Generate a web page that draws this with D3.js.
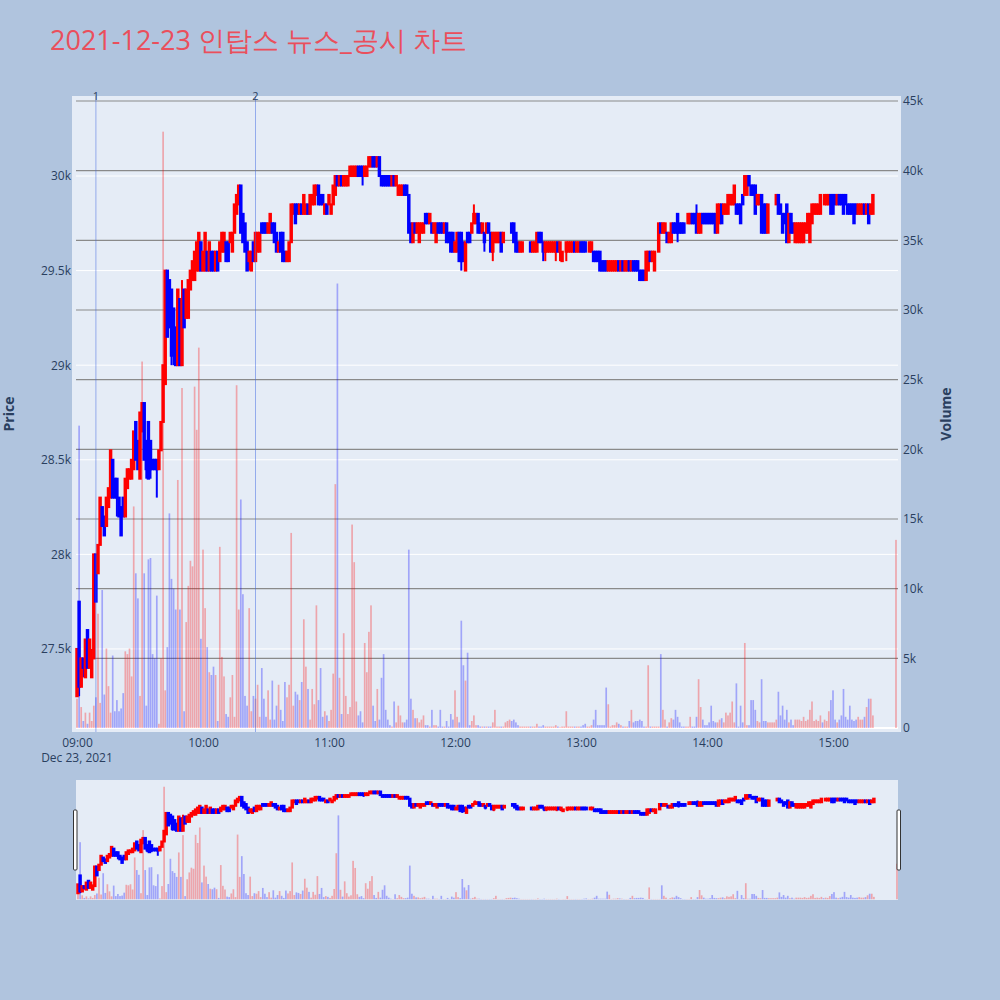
<!DOCTYPE html>
<html><head><meta charset="utf-8">
<script src="https://cdn.jsdelivr.net/npm/d3@7"></script>
<style>
body{margin:0;background:#b0c4de;}
svg{display:block;font-family:"Open Sans",verdana,arial,sans-serif;}
</style>
</head><body>
<svg id="chart" width="1000" height="1000"></svg>
<script>
const titleText = "2021-12-23 인탑스 뉴스_공시 차트";
const timeTicks = ["09:00","10:00","11:00","12:00","13:00","14:00","15:00"];
const priceTicks = [27500, 28000, 28500, 29000, 29500, 30000];
const volumeTicks = [0, 5000, 10000, 15000, 20000, 25000, 30000, 35000, 40000, 45000];
const newsTimes = ["09:09", "10:25"];
const newsLabels = ["1", "2"];

const open = [
27250,27750,27300,27450,27350,27600,27400,27350,27450,28000,
27900,28050,28250,28200,28150,28250,28300,28500,28400,28400,
28300,28250,28300,28200,28350,28400,28400,28450,28700,28600,
28400,28650,28800,28600,28700,28600,28500,28500,28500,28450,
28550,28700,28900,29500,29450,29400,29300,29200,29000,29350,
29000,29400,29250,29250,29400,29450,29450,29500,29500,29650,
29500,29500,29600,29500,29600,29600,29500,29600,29550,29600,
29600,29650,29650,29650,29600,29700,29800,29850,29950,29800,
29750,29650,29550,29500,29650,29550,29600,29600,29750,29750,
29750,29700,29700,29750,29750,29700,29600,29700,29700,29600,
29550,29550,29650,29800,29850,29850,29800,29850,29800,29800,
29850,29800,29850,29850,29900,29950,29900,29900,29800,29850,
29850,29800,29850,29900,30000,29950,30000,29950,29950,29950,
30000,30000,30000,30000,30050,30050,30050,30000,30000,30050,
30050,30100,30100,30050,30100,30000,30000,30000,30000,30000,
29950,30000,29950,29900,29900,29900,29950,29950,29900,29750,
29650,29750,29700,29650,29700,29700,29800,29800,29750,29750,
29700,29650,29750,29750,29750,29700,29750,29700,29700,29700,
29600,29600,29700,29700,29650,29500,29700,29700,29700,29750,
29750,29800,29750,29700,29700,29700,29750,29700,29600,29650,
29650,29650,29700,29650,29700,29700,29700,29750,29750,29700,
29650,29600,29600,29650,29650,29650,29650,29600,29600,29600,
29700,29700,29650,29600,29600,29600,29600,29600,29600,29650,
29600,29550,29600,29600,29600,29600,29600,29650,29600,29600,
29650,29650,29650,29650,29600,29600,29600,29600,29600,29600,
29550,29550,29550,29500,29500,29500,29500,29500,29550,29500,
29550,29500,29500,29550,29500,29550,29550,29550,29500,29500,
29500,29450,29500,29600,29550,29500,29600,29600,29750,29700,
29700,29700,29650,29650,29750,29750,29800,29750,29750,29750,
29750,29750,29750,29800,29800,29800,29700,29700,29800,29800,
29800,29800,29800,29800,29800,29700,29750,29850,29800,29800,
29800,29850,29850,29850,29850,29850,29850,29900,29900,29900,
30000,29950,29950,29950,29850,29850,29900,29850,29850,29700,
29850,29850,29850,29850,29900,29850,29800,29800,29850,29650,
29800,29750,29650,29650,29650,29650,29650,29700,29700,29650,
29750,29800,29800,29800,29800,29850,29850,29850,29850,29900,
29900,29900,29850,29900,29900,29900,29900,29850,29850,29850,
29850,29850,29800,29800,29800,29850,29800,29850,29800,29800,
29900];

const close = [
27500,27300,27450,27400,27550,27400,27550,27450,28000,27750,
28050,28300,28150,28100,28300,28350,28550,28300,28300,28300,
28200,28100,28200,28400,28450,28450,28500,28650,28500,28450,
28750,28800,28500,28450,28400,28450,28450,28450,28450,28550,
28700,29000,29500,29150,29200,29050,29100,29000,29400,29000,
29350,29200,29400,29450,29500,29550,29600,29650,29700,29500,
29600,29700,29500,29650,29500,29500,29600,29500,29650,29700,
29700,29550,29550,29700,29700,29850,29900,29950,29700,29650,
29600,29500,29600,29600,29550,29700,29700,29700,29700,29700,
29700,29750,29800,29700,29650,29600,29650,29600,29550,29550,
29600,29650,29850,29850,29750,29800,29850,29800,29900,29850,
29800,29900,29900,29950,29950,29850,29850,29850,29850,29800,
29900,29850,29950,30000,29950,30000,29950,30000,30000,30000,
30050,30050,30050,30050,30000,30000,30000,30050,30050,30100,
30100,30050,30050,30100,30000,29950,29950,29950,29950,29950,
30000,29950,30000,29950,29950,29950,29900,29900,29700,29650,
29750,29700,29750,29750,29750,29750,29750,29750,29800,29700,
29750,29750,29700,29700,29700,29750,29650,29650,29600,29600,
29650,29700,29550,29550,29550,29650,29650,29650,29750,29800,
29800,29700,29700,29750,29650,29750,29700,29600,29700,29700,
29700,29700,29600,29700,29700,29700,29700,29700,29650,29600,
29600,29650,29650,29650,29650,29650,29600,29650,29650,29700,
29650,29650,29600,29650,29650,29650,29650,29650,29650,29600,
29650,29600,29600,29650,29650,29650,29650,29600,29650,29650,
29600,29600,29600,29650,29650,29650,29550,29550,29550,29500,
29500,29500,29500,29550,29550,29550,29550,29550,29500,29550,
29500,29550,29550,29500,29550,29500,29500,29500,29450,29450,
29450,29600,29600,29550,29600,29600,29600,29750,29700,29750,
29750,29650,29700,29750,29700,29700,29700,29700,29700,29700,
29750,29800,29800,29750,29750,29700,29800,29800,29750,29750,
29750,29750,29750,29750,29700,29850,29850,29750,29850,29850,
29900,29900,29900,29950,29800,29800,29750,29850,30000,30000,
29950,29900,29900,29800,29900,29900,29700,29700,29700,29850,
29850,29850,29850,29900,29800,29800,29700,29750,29650,29800,
29700,29700,29750,29750,29750,29750,29750,29750,29800,29800,
29850,29850,29850,29850,29900,29850,29900,29900,29900,29800,
29800,29850,29900,29850,29850,29800,29850,29800,29800,29800,
29750,29800,29850,29850,29850,29800,29850,29750,29850,29900,
29900];

const high = [
27500,27750,27450,27450,27550,27600,27550,27500,28000,28000,
28050,28300,28250,28200,28300,28350,28550,28500,28400,28400,
28300,28250,28300,28400,28450,28450,28500,28650,28700,28600,
28750,28800,28800,28600,28700,28600,28500,28500,28500,28550,
28700,29000,29500,29500,29450,29400,29300,29200,29400,29350,
29450,29400,29400,29450,29500,29550,29600,29650,29700,29650,
29600,29700,29600,29650,29600,29600,29600,29600,29650,29700,
29700,29650,29650,29700,29700,29850,29900,29950,29950,29800,
29750,29650,29600,29600,29650,29700,29700,29700,29750,29750,
29750,29750,29800,29750,29750,29700,29650,29700,29700,29600,
29600,29650,29850,29850,29850,29850,29850,29850,29900,29850,
29850,29900,29900,29950,29950,29950,29900,29900,29850,29850,
29900,29850,29950,30000,30000,30000,30000,30000,30000,30000,
30050,30050,30050,30050,30050,30050,30050,30050,30050,30100,
30100,30100,30100,30100,30100,30000,30000,30000,30000,30000,
30000,30000,30000,29950,29950,29950,29950,29950,29900,29750,
29750,29750,29750,29750,29750,29750,29800,29800,29800,29750,
29750,29750,29750,29750,29750,29750,29750,29700,29700,29700,
29650,29700,29700,29700,29650,29650,29700,29700,29750,29850,
29800,29800,29750,29750,29700,29750,29750,29700,29700,29700,
29700,29700,29700,29700,29700,29700,29700,29750,29750,29700,
29650,29650,29650,29650,29650,29650,29650,29650,29650,29700,
29700,29700,29650,29650,29650,29650,29650,29650,29650,29650,
29650,29600,29600,29650,29650,29650,29650,29650,29650,29650,
29650,29650,29650,29650,29650,29650,29600,29600,29600,29600,
29550,29550,29550,29550,29550,29550,29550,29550,29550,29550,
29550,29550,29550,29550,29550,29550,29550,29550,29500,29500,
29500,29600,29600,29600,29600,29600,29600,29750,29750,29750,
29750,29700,29700,29750,29750,29750,29800,29750,29750,29750,
29750,29800,29800,29800,29800,29850,29800,29800,29800,29800,
29800,29800,29800,29800,29800,29850,29850,29850,29850,29850,
29900,29900,29900,29950,29850,29850,29850,29900,30000,30000,
30000,29950,29950,29950,29900,29900,29900,29850,29850,29850,
29850,29850,29850,29900,29900,29850,29800,29800,29850,29800,
29800,29750,29750,29750,29750,29750,29750,29750,29800,29800,
29850,29850,29850,29850,29900,29850,29900,29900,29900,29900,
29900,29900,29900,29900,29900,29900,29900,29850,29850,29850,
29850,29850,29850,29850,29850,29850,29850,29850,29850,29900,
29900];

const low = [
27250,27250,27300,27350,27350,27400,27400,27350,27450,27750,
27900,28050,28150,28100,28150,28250,28300,28300,28300,28200,
28200,28100,28200,28200,28350,28400,28400,28450,28500,28450,
28400,28650,28500,28400,28400,28400,28450,28450,28300,28450,
28550,28700,28900,29150,29200,29000,29000,29000,29000,29000,
29000,29200,29250,29250,29400,29450,29450,29500,29500,29500,
29500,29500,29500,29500,29500,29500,29500,29500,29550,29600,
29600,29550,29550,29650,29600,29700,29800,29850,29700,29650,
29600,29500,29500,29500,29550,29550,29600,29600,29700,29700,
29700,29700,29700,29700,29650,29600,29600,29600,29550,29550,
29550,29550,29650,29800,29750,29800,29800,29800,29800,29800,
29800,29800,29850,29850,29900,29850,29850,29850,29800,29800,
29850,29800,29850,29900,29950,29950,29950,29950,29950,29950,
30000,30000,30000,30000,30000,30000,29950,30000,30000,30050,
30050,30050,30050,30050,30000,29950,29950,29950,29950,29950,
29950,29950,29950,29900,29900,29900,29900,29900,29700,29650,
29650,29700,29700,29650,29700,29700,29750,29750,29750,29700,
29700,29650,29700,29700,29700,29700,29650,29650,29600,29600,
29600,29600,29550,29500,29550,29500,29650,29650,29700,29750,
29750,29700,29700,29700,29600,29700,29700,29600,29550,29650,
29650,29650,29600,29650,29700,29700,29700,29700,29650,29600,
29600,29600,29600,29650,29650,29650,29600,29600,29600,29600,
29650,29650,29550,29550,29600,29600,29600,29600,29550,29600,
29550,29550,29600,29550,29600,29600,29600,29600,29600,29600,
29600,29600,29600,29650,29600,29600,29550,29550,29550,29500,
29500,29500,29500,29500,29500,29500,29500,29500,29500,29500,
29500,29500,29500,29500,29500,29500,29500,29500,29450,29450,
29450,29450,29500,29550,29550,29500,29600,29600,29700,29700,
29700,29650,29650,29650,29700,29700,29650,29700,29700,29700,
29750,29750,29750,29750,29750,29700,29700,29700,29750,29750,
29750,29750,29750,29750,29700,29700,29750,29750,29800,29800,
29800,29850,29850,29850,29800,29800,29750,29850,29900,29900,
29950,29900,29900,29800,29850,29850,29700,29700,29700,29700,
29850,29850,29850,29850,29800,29800,29700,29750,29650,29650,
29700,29700,29650,29650,29650,29650,29650,29700,29700,29650,
29750,29800,29800,29800,29800,29850,29850,29850,29850,29800,
29800,29850,29850,29850,29850,29800,29850,29800,29800,29800,
29750,29800,29800,29800,29800,29800,29800,29750,29800,29800,
29900];

const volume = [
2100,21700,1500,500,1100,300,1100,500,1600,2200,
8200,1800,9900,2400,5700,3000,1100,5200,1200,2000,
1200,1400,2500,5500,5300,5700,3700,15900,11100,9300,
2300,26300,11100,1600,12100,12200,5300,5000,9500,300,
5000,42800,2700,5800,15400,10700,10000,8500,17800,8500,
24400,1200,7600,10200,12000,11600,24500,21400,27300,6400,
12800,8600,5800,4000,3800,4400,3800,500,13000,5100,
3700,1000,800,2200,3800,800,24600,8500,16400,9600,
2300,1600,8600,1200,2300,2100,3100,800,4300,2100,
800,2700,600,3400,600,1600,3100,1300,500,3300,
2200,3100,14000,1600,2600,2400,2000,3300,7800,4400,
2800,600,2800,1700,8800,2000,4300,800,1200,900,
500,1300,3900,17500,31900,3600,1000,6800,2300,1000,
1500,14600,11900,1900,900,1200,400,6100,4000,6900,
8800,1600,500,2800,600,3600,5300,1300,600,200,
100,1900,400,1600,900,400,400,600,12800,2100,
1300,700,700,400,600,900,200,200,100,1300,
200,200,100,1300,100,100,500,100,1000,600,
2700,800,400,7700,4500,3400,5400,200,500,900,
200,200,100,100,100,100,100,100,400,1300,
100,100,100,100,400,500,600,500,600,400,
200,100,100,100,100,100,100,100,100,300,
100,100,200,100,100,100,100,100,200,100,
50,100,100,1200,100,100,100,100,100,100,
100,200,300,100,100,200,600,1300,200,200,
200,200,2900,1700,100,200,200,400,300,200,
100,100,100,500,1300,400,500,500,600,500,
100,100,4500,100,100,100,100,100,5300,1300,
600,100,400,700,600,1300,800,400,100,100,
100,100,800,100,100,800,3500,1500,600,200,
200,400,1600,500,400,400,600,700,400,1100,
900,1100,1900,400,3200,100,1600,400,6100,200,
200,2000,2000,1300,500,400,3500,500,500,400,
400,400,400,600,2600,900,1600,600,1300,400,
600,200,600,600,600,500,800,500,600,1300,
1900,500,600,500,900,400,600,500,1200,2000,
2700,600,400,600,900,2800,800,600,1600,600,
500,600,800,600,600,800,1500,2100,2100,900,
13500];

// ---- build records ----
const day = (h, m, s = 0) => new Date(2021, 11, 23, h, m, s);
const parseHM = s => { const [h, m] = s.split(":").map(Number); return day(h, m); };
const times = d3.range(380).map(i => day(9, i)).concat([day(15, 30)]);
const data = times.map((t, i) => ({ t, o: open[i], h: high[i], l: low[i], c: close[i], v: volume[i] }));
data.forEach((d, i) => {
  d.up = d.c > d.o ? true : d.c < d.o ? false : (i > 0 ? d.c >= data[i - 1].c : true);
});

const RED = "#ff0000", BLUE = "#0000ff";
const VOL_RED = "rgba(255,0,0,0.3)", VOL_BLUE = "rgba(0,0,255,0.3)";
const TXT = "#2a3f5f";

const svg = d3.select("#chart");
svg.append("rect").attr("width", 1000).attr("height", 1000).attr("fill", "#b0c4de");

// title
svg.append("text").attr("x", 50).attr("y", 50).attr("font-size", 27).attr("fill", "#ea4f5c").text(titleText);

// ---- main scales ----
const x = d3.scaleTime().domain([day(8, 57, 37), day(15, 32, 23)]).range([72, 901]);
const yP = d3.scaleLinear().domain([27061, 30423]).range([732, 96]);
const yV = d3.scaleLinear().domain([-290, 45360]).range([732, 96]);

svg.append("rect").attr("x", 72).attr("y", 96).attr("width", 829).attr("height", 636).attr("fill", "#e5ecf6");

const grid = svg.append("g");
grid.selectAll("line.pg").data(priceTicks).join("line").attr("class", "pg")
  .attr("x1", 76).attr("x2", 898).attr("y1", d => yP(d)).attr("y2", d => yP(d))
  .attr("stroke", "#fff").attr("stroke-width", 1);
grid.selectAll("line.vg").data(volumeTicks.filter(v => v > 0)).join("line").attr("class", "vg")
  .attr("x1", 76).attr("x2", 898).attr("y1", d => yV(d)).attr("y2", d => yV(d))
  .attr("stroke", "#8a8a8a").attr("stroke-width", 1.2);
grid.append("line").attr("x1", 76).attr("x2", 898).attr("y1", yV(0)).attr("y2", yV(0))
  .attr("stroke", "#fff").attr("stroke-width", 2);

svg.append("clipPath").attr("id", "mainClip").append("rect")
  .attr("x", 72).attr("y", 96).attr("width", 829).attr("height", 636);
svg.append("clipPath").attr("id", "sliderClip").append("rect")
  .attr("x", 76).attr("y", 780).attr("width", 822).attr("height", 120);

function drawSeries(g, xs, yp, yv) {
  const bw = 1.68, cw = 1.47;
  g.append("g").selectAll("rect").data(data).join("rect")
    .attr("x", d => xs(d.t) - bw / 2).attr("width", bw)
    .attr("y", d => yv(d.v)).attr("height", d => yv(0) - yv(d.v))
    .attr("fill", d => d.up ? VOL_RED : VOL_BLUE);
  const cg = g.append("g");
  cg.selectAll("line").data(data).join("line")
    .attr("x1", d => xs(d.t)).attr("x2", d => xs(d.t))
    .attr("y1", d => yp(d.h)).attr("y2", d => yp(d.l))
    .attr("stroke", d => d.up ? RED : BLUE).attr("stroke-width", 2);
  cg.selectAll("rect").data(data).join("rect")
    .attr("x", d => xs(d.t) - cw / 2).attr("width", cw)
    .attr("y", d => yp(Math.max(d.o, d.c)))
    .attr("height", d => Math.abs(yp(d.o) - yp(d.c)))
    .attr("fill", d => d.up ? RED : BLUE)
    .attr("stroke", d => d.up ? RED : BLUE).attr("stroke-width", 2);
}

drawSeries(svg.append("g").attr("clip-path", "url(#mainClip)"), x, yP, yV);

// news lines
const news = svg.append("g");
news.selectAll("line").data(newsTimes).join("line")
  .attr("x1", d => x(parseHM(d))).attr("x2", d => x(parseHM(d)))
  .attr("y1", 96).attr("y2", 732)
  .attr("stroke", "royalblue").attr("stroke-opacity", 0.5).attr("stroke-width", 1);
news.selectAll("text").data(newsLabels).join("text")
  .attr("x", (d, i) => x(parseHM(newsTimes[i]))).attr("y", 100)
  .attr("text-anchor", "middle").attr("font-size", 11).attr("fill", TXT).text(d => d);

// axes
function styleAxis(g) {
  g.select(".domain").remove();
  g.selectAll("text").attr("font-size", 12).attr("fill", TXT)
    .attr("font-family", '"Open Sans", verdana, arial, sans-serif');
}
svg.append("g").attr("transform", "translate(0,732)")
  .call(d3.axisBottom(x).tickValues(timeTicks.map(parseHM)).tickFormat(d3.timeFormat("%H:%M")).tickSize(0).tickPadding(6))
  .call(styleAxis);
svg.append("text").attr("x", x(parseHM(timeTicks[0]))).attr("y", 762).attr("text-anchor", "middle")
  .attr("font-size", 12).attr("fill", TXT).text("Dec 23, 2021");
svg.append("g").attr("transform", "translate(72,0)")
  .call(d3.axisLeft(yP).tickValues(priceTicks).tickFormat(d => (d / 1000) + "k").tickSize(0).tickPadding(1))
  .call(styleAxis);
svg.append("g").attr("transform", "translate(901,0)")
  .call(d3.axisRight(yV).tickValues(volumeTicks).tickFormat(d => d === 0 ? "0" : (d / 1000) + "k").tickSize(0).tickPadding(2))
  .call(styleAxis);

svg.append("text").attr("transform", "translate(14,414) rotate(-90)").attr("text-anchor", "middle")
  .attr("font-size", 14).attr("font-weight", "bold").attr("fill", TXT).text("Price");
svg.append("text").attr("transform", "translate(951,414) rotate(-90)").attr("text-anchor", "middle")
  .attr("font-size", 14).attr("font-weight", "bold").attr("fill", TXT).text("Volume");

// ---- range slider ----
const xs = d3.scaleTime().domain([day(8, 59, 3), day(15, 30, 29)]).range([76, 898]);
const ysP = d3.scaleLinear().domain([27061, 30423]).range([900, 780]);
const ysV = d3.scaleLinear().domain([-290, 45360]).range([900, 780]);
svg.append("rect").attr("x", 76).attr("y", 780).attr("width", 822).attr("height", 120).attr("fill", "#e5ecf6");
drawSeries(svg.append("g").attr("clip-path", "url(#sliderClip)"), xs, ysP, ysV);
[73.5, 897].forEach(hx => {
  svg.append("rect").attr("x", hx).attr("y", 810).attr("width", 3.5).attr("height", 60)
    .attr("rx", 1).attr("fill", "#fff").attr("stroke", "#333").attr("stroke-width", 1);
});
</script>
</body></html>
